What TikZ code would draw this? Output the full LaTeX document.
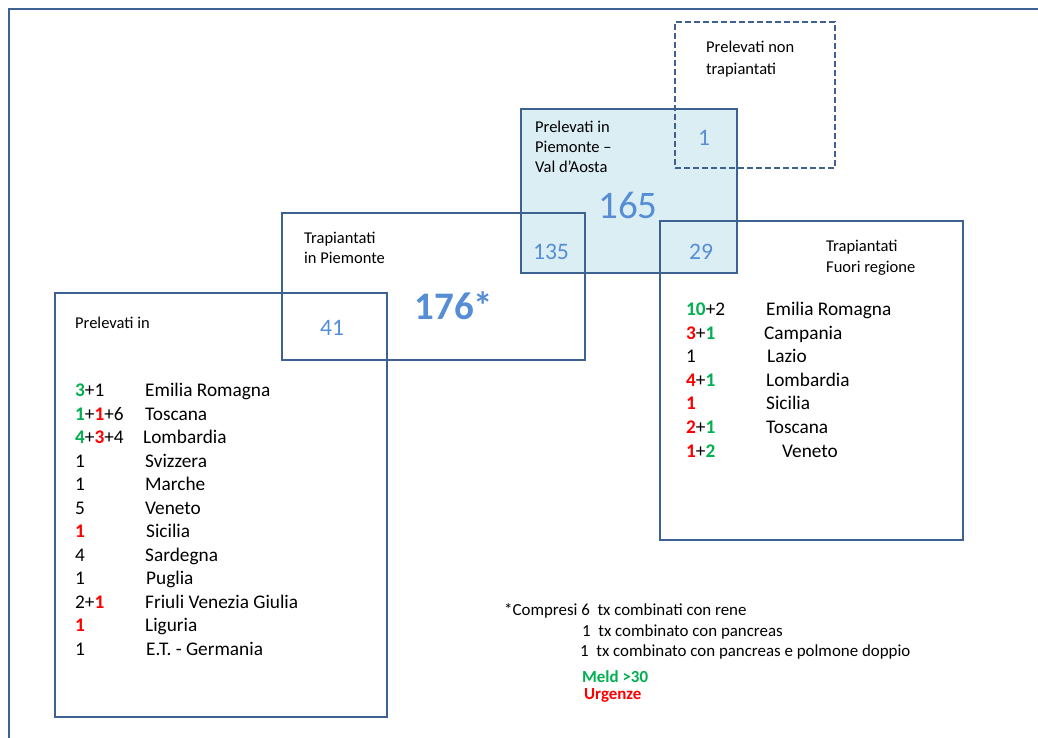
\documentclass[tikz,border=0pt]{standalone}
\usepackage{fontspec}
\setmainfont{Carlito}
\definecolor{edge}{HTML}{3D6190}
\definecolor{lightfill}{HTML}{DBEEF4}
\definecolor{numblue}{HTML}{558ED5}
\definecolor{mgreen}{HTML}{00B050}
\definecolor{mred}{HTML}{FF0000}
\newcommand\grn[1]{\textcolor{mgreen}{\textbf{#1}}}
\newcommand\redn[1]{\textcolor{mred}{\textbf{#1}}}
\tikzset{
  x=1pt, y=-1pt,
  boxline/.style={draw=edge, line width=2.2pt, inner sep=0pt},
  dashbox/.style={draw=edge, line width=2.2pt, inner sep=0pt, dash pattern=on 6pt off 3pt},
  fillbox/.style={fill=lightfill, inner sep=0pt},
  lbl/.style={anchor=base west, inner sep=0pt, font=\fontsize{16.5}{19}\selectfont},
  lst/.style={anchor=base west, inner sep=0pt, font=\fontsize{19.3}{23}\selectfont},
  num/.style={anchor=base, inner sep=0pt, text=numblue, font=\fontsize{23.6}{28}\selectfont},
  big/.style={anchor=base, inner sep=0pt, text=numblue, font=\fontsize{39}{46}\selectfont},
  note/.style={anchor=base west, inner sep=0pt, font=\fontsize{16.9}{20}\selectfont},
}
\begin{document}
\begin{tikzpicture}
\useasboundingbox (0,0) rectangle (1038,738);
% outer frame
\coordinate (fa) at (1040,9);
\coordinate (fb) at (9,9);
\coordinate (fc) at (9,740);
\draw[edge, line width=2.2pt] (fa) -- (fb) -- (fc);
% blue fill
\node[fillbox, minimum width=216pt, minimum height=164pt] (bluefill) at (629,191) {};
% outlines
\node[dashbox, minimum width=160pt, minimum height=146pt] (nontx) at (755,95) {};
\node[boxline, minimum width=216pt, minimum height=164pt] (prel) at (629,191) {};
\node[boxline, minimum width=303pt, minimum height=147pt] (trpie) at (433.5,286.5) {};
\node[boxline, minimum width=332pt, minimum height=424pt] (left) at (221,505) {};
\node[boxline, minimum width=303pt, minimum height=319pt] (right) at (811.5,380.5) {};
% labels
\node[lbl] (t1) at (706,52.5) {Prelevati non};
\node[lbl] (t2) at (706,74.5) {trapiantati};
\node[lbl] (t3) at (535,132.5) {Prelevati in};
\node[lbl] (t4) at (535,152.5) {Piemonte –};
\node[lbl] (t5) at (535,172.5) {Val d’Aosta};
\node[lbl] (t6) at (304,243.5) {Trapiantati};
\node[lbl] (t7) at (304,263.5) {in Piemonte};
\node[lbl] (t8) at (75,328.5) {Prelevati in};
\node[lbl] (t9) at (826,251.5) {Trapiantati};
\node[lbl] (t10) at (826,272.5) {Fuori regione};
% numbers
\node[num] (n1) at (704,146) {1};
\node[big] (n165) at (628,218.5) {165};
\node[num] (n135) at (551,259) {135};
\node[num] (n29) at (701,259) {29};
\node[big, font=\fontsize{39}{46}\selectfont\bfseries] (n176) at (454,319.5) {176*};
\node[num] (n41) at (332,335) {41};
% left list
\node[lst] (a1) at (75,396.5) {\grn{3}+1};
\node[lst] (b1) at (145,396.5) {Emilia Romagna};
\node[lst] (a2) at (75,420) {\grn{1}+\redn{1}+6};
\node[lst] (b2) at (145,420) {Toscana};
\node[lst] (a3) at (75,443.5) {\grn{4}+\redn{3}+4};
\node[lst] (b3) at (143,443.5) {Lombardia};
\node[lst] (a4) at (75,467) {1};
\node[lst] (b4) at (145,467) {Svizzera};
\node[lst] (a5) at (75,490.5) {1};
\node[lst] (b5) at (145,490.5) {Marche};
\node[lst] (a6) at (75,514) {5};
\node[lst] (b6) at (145,514) {Veneto};
\node[lst] (a7) at (75,537.5) {\redn{1}};
\node[lst] (b7) at (146,537.5) {Sicilia};
\node[lst] (a8) at (75,561) {4};
\node[lst] (b8) at (145,561) {Sardegna};
\node[lst] (a9) at (75,584.5) {1};
\node[lst] (b9) at (146,584.5) {Puglia};
\node[lst] (a10) at (75,608) {2+\redn{1}};
\node[lst] (b10) at (145,608) {Friuli Venezia Giulia};
\node[lst] (a11) at (75,631.5) {\redn{1}};
\node[lst] (b11) at (145,631.5) {Liguria};
\node[lst] (a12) at (75,655) {1};
\node[lst] (b12) at (146,655) {E.T. - Germania};
% right list
\node[lst] (c1) at (686,315.5) {\grn{10}+2};
\node[lst] (d1) at (766,315.5) {Emilia Romagna};
\node[lst] (c2) at (686,339.5) {\redn{3}+\grn{1}};
\node[lst] (d2) at (764,339.5) {Campania};
\node[lst] (c3) at (686,362.5) {1};
\node[lst] (d3) at (767,362.5) {Lazio};
\node[lst] (c4) at (686,386.5) {\redn{4}+\grn{1}};
\node[lst] (d4) at (766,386.5) {Lombardia};
\node[lst] (c5) at (686,409.5) {\redn{1}};
\node[lst] (d5) at (766,409.5) {Sicilia};
\node[lst] (c6) at (686,433.5) {\redn{2}+\grn{1}};
\node[lst] (d6) at (766,433.5) {Toscana};
\node[lst] (c7) at (686,457.5) {\redn{1}+\grn{2}};
\node[lst] (d7) at (782,457.5) {Veneto};
% footnote
\node[note] (f1) at (504,615.5) {*Compresi 6\ \ tx combinati con rene};
\node[note] (f2) at (582,636.5) {1\ \ tx combinato con pancreas};
\node[note] (f3) at (580,656.5) {1\ \ tx combinato con pancreas e polmone doppio};
\node[note, font=\fontsize{16.9}{20}\selectfont\bfseries, text=mgreen] (f4) at (582,682.5) {Meld >30};
\node[note, font=\fontsize{16.9}{20}\selectfont\bfseries, text=mred] (f5) at (584,699.5) {Urgenze};
\end{tikzpicture}
\end{document}
